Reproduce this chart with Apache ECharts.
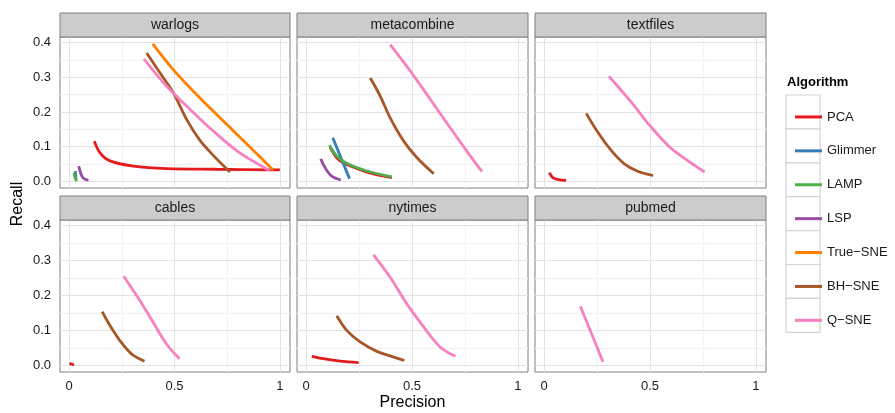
<!DOCTYPE html>
<html>
<head>
<meta charset="utf-8">
<script src="https://cdn.jsdelivr.net/npm/echarts@6/dist/echarts.min.js"></script>
<style>
html, body { margin: 0; padding: 0; background: #fff; }
#chart { width: 895px; height: 413px; }
</style>
</head>
<body>
<div id="chart"></div>
<script>
var facets = ['warlogs', 'metacombine', 'textfiles', 'cables', 'nytimes', 'pubmed'];
var algorithms = ['PCA', 'Glimmer', 'LAMP', 'LSP', 'True\u2212SNE', 'BH\u2212SNE', 'Q\u2212SNE'];
var xTicks = [0, 0.5, 1];
var yTicks = [0, 0.1, 0.2, 0.3, 0.4];
var xMinor = [0.25, 0.75];
var yMinor = [0.05, 0.15, 0.25, 0.35];

// [precision, recall]
var warlogsPCA = [[0.120, 0.116], [0.147, 0.082], [0.194, 0.059], [0.305, 0.044], [0.463, 0.037], [0.700, 0.035], [1.0, 0.033]];
var warlogsGlimmer = [[0.030, 0.030], [0.033, 0.006]];
var warlogsLAMP = [[0.024, 0.025], [0.028, 0.012], [0.036, 0.001]];
var warlogsLSP = [[0.046, 0.044], [0.065, 0.011], [0.092, 0.003]];
var warlogsTrueSNE = [[0.397, 0.396], [0.494, 0.322], [0.621, 0.240], [0.779, 0.146], [0.905, 0.071], [0.968, 0.033]];
var warlogsBHSNE = [[0.368, 0.370], [0.431, 0.313], [0.494, 0.256], [0.558, 0.178], [0.621, 0.118], [0.684, 0.075], [0.763, 0.027]];
var warlogsQSNE = [[0.355, 0.353], [0.463, 0.274], [0.558, 0.217], [0.684, 0.145], [0.810, 0.082], [0.953, 0.031]];

var metacombinePCA = [[0.114, 0.097], [0.153, 0.063], [0.199, 0.047], [0.287, 0.027], [0.405, 0.011]];
var metacombineGlimmer = [[0.126, 0.126], [0.205, 0.008]];
var metacombineLAMP = [[0.110, 0.104], [0.145, 0.073], [0.192, 0.052], [0.287, 0.030], [0.405, 0.013]];
var metacombineLSP = [[0.069, 0.065], [0.090, 0.039], [0.121, 0.015], [0.164, 0.004]];
var metacombineBHSNE = [[0.303, 0.298], [0.350, 0.246], [0.397, 0.183], [0.461, 0.116], [0.524, 0.068], [0.603, 0.022]];
var metacombineQSNE = [[0.397, 0.394], [0.492, 0.318], [0.587, 0.236], [0.681, 0.154], [0.776, 0.073], [0.831, 0.028]];

var textfilesPCA = [[0.025, 0.025], [0.041, 0.011], [0.068, 0.005], [0.104, 0.003]];
var textfilesBHSNE = [[0.199, 0.196], [0.250, 0.145], [0.313, 0.092], [0.376, 0.052], [0.439, 0.030], [0.515, 0.017]];
var textfilesQSNE = [[0.306, 0.303], [0.408, 0.231], [0.502, 0.159], [0.597, 0.097], [0.692, 0.054], [0.758, 0.027]];

var cablesPCA = [[0.002, 0.006], [0.013, 0.003], [0.024, 0.001]];
var cablesBHSNE = [[0.157, 0.154], [0.194, 0.114], [0.241, 0.071], [0.296, 0.033], [0.358, 0.012]];
var cablesQSNE = [[0.259, 0.255], [0.335, 0.186], [0.398, 0.124], [0.461, 0.062], [0.524, 0.019]];

var nytimesPCA = [[0.027, 0.026], [0.082, 0.019], [0.161, 0.012], [0.248, 0.008]];
var nytimesBHSNE = [[0.145, 0.142], [0.192, 0.100], [0.255, 0.067], [0.334, 0.040], [0.397, 0.027], [0.464, 0.014]];
var nytimesQSNE = [[0.318, 0.316], [0.397, 0.252], [0.476, 0.176], [0.555, 0.110], [0.634, 0.052], [0.705, 0.026]];

var pubmedQSNE = [[0.171, 0.169], [0.218, 0.100], [0.278, 0.010]];

// per facet, in algorithm order (null = not drawn)
var facetSeries = [
  [warlogsPCA, warlogsGlimmer, warlogsLAMP, warlogsLSP, warlogsTrueSNE, warlogsBHSNE, warlogsQSNE],
  [metacombinePCA, metacombineGlimmer, metacombineLAMP, metacombineLSP, null, metacombineBHSNE, metacombineQSNE],
  [textfilesPCA, null, null, null, null, textfilesBHSNE, textfilesQSNE],
  [cablesPCA, null, null, null, null, cablesBHSNE, cablesQSNE],
  [nytimesPCA, null, null, null, null, nytimesBHSNE, nytimesQSNE],
  [null, null, null, null, null, null, pubmedQSNE]
];

var colors = ['#E41A1C', '#377EB8', '#4DAF4A', '#984EA3', '#FF7F00', '#A65628', '#F781BF'];
var font = '"Liberation Sans", Arial, sans-serif';

var colLeft = [60, 297, 535];
var colWidth = [230, 231, 231];
var rowTop = [37, 220];
var rowHeight = [151, 152];

var chart = echarts.init(document.getElementById('chart'));

var grids = [], xAxes = [], yAxes = [], series = [], graphics = [];

facets.forEach(function (name, i) {
  var row = Math.floor(i / 3), col = i % 3;
  grids.push({
    left: colLeft[col], top: rowTop[row], width: colWidth[col], height: rowHeight[row],
    show: true, borderColor: '#7f7f7f', borderWidth: 1, backgroundColor: '#fff'
  });
  var bottomRow = row === 1, leftCol = col === 0;
  xAxes.push({
    type: 'value', gridIndex: i, min: -0.043, max: 1.048,
    axisLine: { show: false },
    splitLine: { show: false },
    axisTick: { show: bottomRow, length: 4, customValues: xTicks, lineStyle: { color: '#333' } },
    axisLabel: {
      show: bottomRow, customValues: xTicks, margin: 8,
      fontFamily: font, fontSize: 13, color: '#1a1a1a',
      formatter: function (v) { return String(v); }
    },
    name: i === 4 ? 'Precision' : '',
    nameLocation: 'middle', nameGap: 23,
    nameTextStyle: { fontFamily: font, fontSize: 16, color: '#000' }
  });
  yAxes.push({
    type: 'value', gridIndex: i, min: -0.019, max: 0.416,
    axisLine: { show: false },
    splitLine: { show: false },
    axisTick: { show: leftCol, length: 4, customValues: yTicks, lineStyle: { color: '#333' } },
    axisLabel: {
      show: leftCol, customValues: yTicks, margin: 9,
      fontFamily: font, fontSize: 13, color: '#1a1a1a',
      formatter: function (v) { return v.toFixed(1); }
    }
  });

  // grid lines
  var lines = [];
  xMinor.forEach(function (v) { lines.push({ xAxis: v, lineStyle: { color: '#f3f3f3', width: 1.3, type: 'solid' } }); });
  yMinor.forEach(function (v) { lines.push({ yAxis: v, lineStyle: { color: '#f3f3f3', width: 1.3, type: 'solid' } }); });
  xTicks.forEach(function (v) { lines.push({ xAxis: v, lineStyle: { color: '#e3e3e3', width: 1, type: 'solid' } }); });
  yTicks.forEach(function (v) { lines.push({ yAxis: v, lineStyle: { color: '#e3e3e3', width: 1, type: 'solid' } }); });
  series.push({
    type: 'line', xAxisIndex: i, yAxisIndex: i, data: [], silent: true, z: 1,
    markLine: { silent: true, symbol: 'none', animation: false, z: 1, label: { show: false }, emphasis: { disabled: true }, data: lines }
  });

  algorithms.forEach(function (alg, k) {
    var d = facetSeries[i][k];
    if (!d) return;
    series.push({
      name: alg, type: 'line', xAxisIndex: i, yAxisIndex: i, data: d,
      smooth: 0.35, showSymbol: false, symbol: 'none', z: 10,
      color: colors[k],
      lineStyle: { width: 2.8, color: colors[k], cap: 'butt' }
    });
  });

  // strip
  var stripTop = rowTop[row] - 24;
  graphics.push({
    type: 'rect', z: 5,
    shape: { x: colLeft[col], y: stripTop, width: colWidth[col], height: 24 },
    style: { fill: '#cccccc', stroke: '#7f7f7f', lineWidth: 1 }
  });
  graphics.push({
    type: 'text', z: 6,
    x: colLeft[col] + colWidth[col] / 2, y: stripTop + 12.5,
    style: { text: name, fontFamily: font, fontSize: 14, fill: '#1a1a1a', textAlign: 'center', textVerticalAlign: 'middle' }
  });
});

graphics.push({
  type: 'text', x: 18, y: 204, rotation: Math.PI / 2,
  style: { text: 'Recall', fontFamily: font, fontSize: 16, fill: '#000', textAlign: 'center', textVerticalAlign: 'middle' }
});
graphics.push({
  type: 'text', x: 787, y: 82,
  style: { text: 'Algorithm', fontFamily: font, fontSize: 13, fontWeight: 'bold', fill: '#000', textAlign: 'left', textVerticalAlign: 'middle' }
});
algorithms.forEach(function (alg, k) {
  graphics.push({
    type: 'rect', z: 0,
    shape: { x: 786, y: 95 + k * 33.9, width: 34, height: 33.9 },
    style: { fill: '#fff', stroke: '#d4d4d4', lineWidth: 1.2 }
  });
});

chart.setOption({
  animation: false,
  backgroundColor: '#fff',
  grid: grids,
  xAxis: xAxes,
  yAxis: yAxes,
  legend: {
    data: algorithms, orient: 'vertical', left: 790, top: 95,
    icon: 'rect', itemWidth: 27, itemHeight: 3, itemGap: 0,
    selectedMode: false,
    textStyle: { fontFamily: font, fontSize: 13, color: '#1a1a1a', lineHeight: 33.9 }
  },
  graphic: graphics,
  series: series
});
</script>
</body>
</html>
